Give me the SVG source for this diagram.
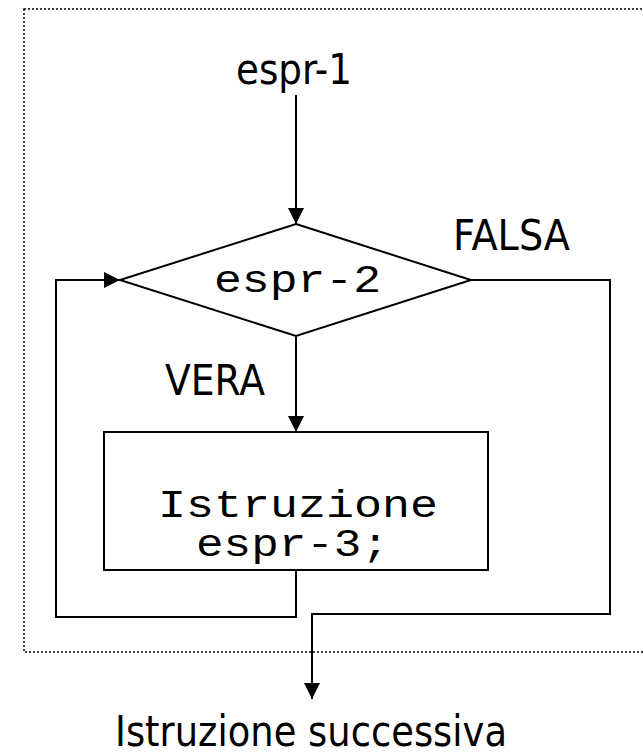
<svg xmlns="http://www.w3.org/2000/svg" width="643" height="756" viewBox="0 0 643 756">
<style>
.sans{font-family:"DejaVu Sans","Verdana",sans-serif;font-size:43px;fill:#000}
.mono{font-family:"Liberation Mono","Courier New",monospace;font-size:38px;fill:#000}
.shape{fill:#fff;stroke:#000;stroke-width:2}
.conn{fill:none;stroke:#000;stroke-width:2}
.frame{fill:none;stroke:#000;stroke-width:1.5;stroke-dasharray:2 2}
</style>
<defs>
<marker id="arr" markerUnits="userSpaceOnUse" markerWidth="16" markerHeight="16" viewBox="0 0 16 16" refX="16" refY="8" orient="auto">
<path d="M0,0 L16,8 L0,16 Z" fill="#000"/>
</marker>
</defs>
<rect class="frame" x="24" y="9" width="640" height="643"/>
<g id="connectors">
<line class="conn" x1="296" y1="95" x2="296" y2="224" marker-end="url(#arr)"/>
<line class="conn" x1="296" y1="336" x2="296" y2="432" marker-end="url(#arr)"/>
<path class="conn" d="M296,570 V617 H56 V280 H120" marker-end="url(#arr)"/>
<path class="conn" d="M471,280 H610 V614 H312 V699" marker-end="url(#arr)"/>
</g>
<g id="start">
<text class="sans" x="236" y="84" textLength="116" lengthAdjust="spacingAndGlyphs">espr-1</text>
</g>
<g id="cond">
<polygon class="shape" points="296,224 471,280 296,336 120,280"/>
<text class="mono" x="214" y="292" font-size="40" textLength="167" lengthAdjust="spacingAndGlyphs">espr-2</text>
</g>
<g id="label-falsa">
<text class="sans" x="453" y="250" textLength="117" lengthAdjust="spacingAndGlyphs">FALSA</text>
</g>
<g id="label-vera">
<text class="sans" x="165" y="395" textLength="100" lengthAdjust="spacingAndGlyphs">VERA</text>
</g>
<g id="body">
<rect class="shape" x="104" y="432" width="384" height="138"/>
<text class="mono" x="158" y="517" textLength="280" lengthAdjust="spacingAndGlyphs">Istruzione</text>
<text class="mono" x="196" y="556" textLength="193" lengthAdjust="spacingAndGlyphs">espr-3;</text>
</g>
<g id="next">
<text class="sans" x="115" y="746" font-size="38" textLength="392" lengthAdjust="spacingAndGlyphs">Istruzione successiva</text>
</g>
</svg>
